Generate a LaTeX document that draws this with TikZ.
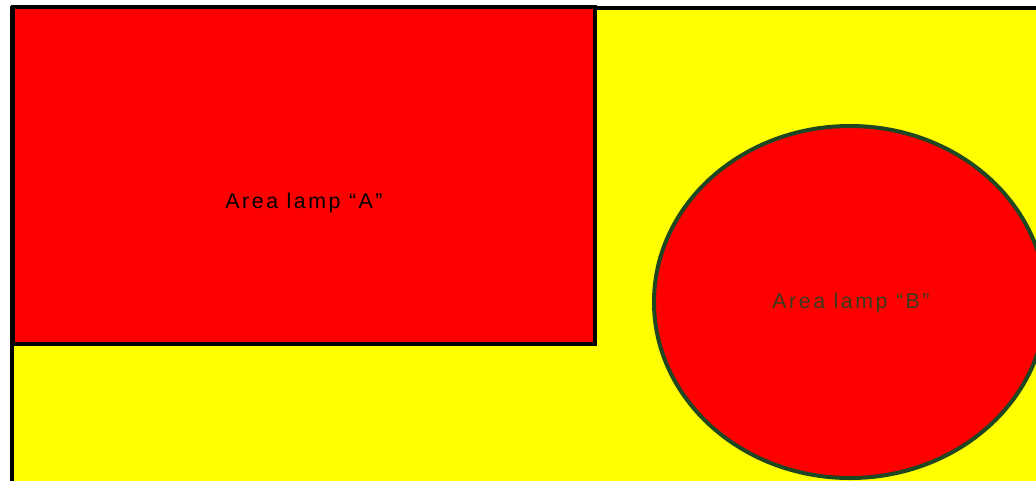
\documentclass[tikz,border=0pt]{standalone}
\usepackage{fontspec}
\setmainfont{Liberation Sans}
\newfontfamily\lampfont[LetterSpace=12]{Liberation Sans}
\usepackage{tikz}
\definecolor{lampred}{HTML}{FF0000}
\definecolor{groundyellow}{HTML}{FFFF00}
\definecolor{rimgreen}{HTML}{1E4620}
\definecolor{labelB}{HTML}{3A3A1E}
\begin{document}
\begin{tikzpicture}[x=0.75pt,y=-0.75pt,font=\fontsize{16}{18}\selectfont\lampfont]
      \useasboundingbox (0,0) rectangle (1036,480);
      \begin{scope}
        \clip (0,0) rectangle (1036,480);
        \filldraw[fill=groundyellow,draw=black,line width=2.4pt](12,8) rectangle(1046,490);
        \filldraw[fill=lampred,draw=black,line width=3pt](13,7) rectangle(595,344);
        \filldraw[fill=lampred,draw=rimgreen,line width=3pt](850,302) ellipse[x radius=196,y radius=176];
      \end{scope}
      \node[text=black] (lampA) at (304,203){Area lamp “A”};
      \node[text=labelB] (lampB) at (851,303){Area lamp “B”};
    \end{tikzpicture}
\end{document}
